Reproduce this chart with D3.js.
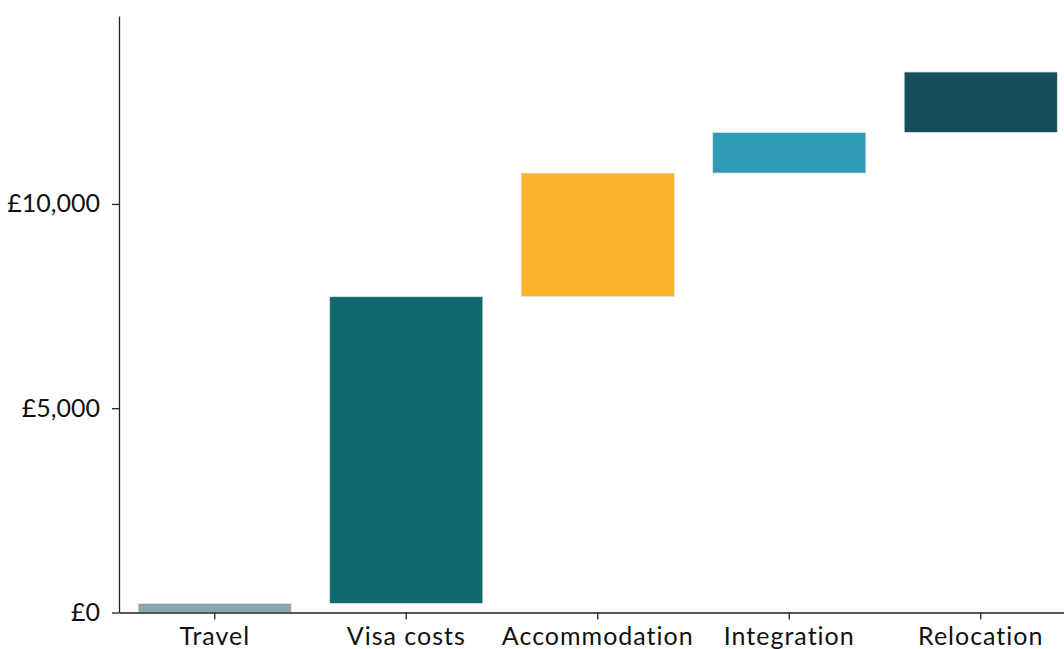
<!DOCTYPE html>
<html><head><meta charset="utf-8">
<script src="https://cdn.jsdelivr.net/npm/d3@7"></script>
<style>body{margin:0;background:#fff;} text{font-family:Lato,sans-serif;}</style>
</head><body><svg id="c" width="1064" height="649"></svg>
<script>
const categories = ["Travel","Visa costs","Accommodation","Integration","Relocation"];
const values = [220, 7510, 3025, 995, 1480];
const colors = ["#8aa6ad","#0f6a70","#fbb32e","#2e9ab6","#164f5c"];
const yTicks = [0, 5000, 10000];
const yMax = 14600;

const svg = d3.select("#c");
const m = {left:119, top:16, bottom:612.5, right:1076.5};
const x = d3.scaleBand().domain(categories).range([m.left, m.right]).paddingInner(0.2).paddingOuter(0.1);
const y = d3.scaleLinear().domain([0, yMax]).range([m.bottom, m.top]);

let cum = 0;
const data = categories.map((c,i)=>{const s=cum; cum+=values[i]; return {c, s, e:cum, col:colors[i]};});

svg.selectAll("rect.bar").data(data).join("rect")
  .attr("x", d=>x(d.c)).attr("width", x.bandwidth())
  .attr("y", d=>y(d.e)).attr("height", d=>y(d.s)-y(d.e))
  .attr("fill", d=>d.col).attr("stroke","#e3e6e6").attr("stroke-width",0.8);

const fmt = d=>"£"+d3.format(",")(d);
const ya = svg.append("g").attr("transform",`translate(${m.left},0)`)
  .call(d3.axisLeft(y).tickValues(yTicks).tickFormat(fmt).tickSize(7).tickSizeOuter(0).tickPadding(12));
const xa = svg.append("g").attr("transform",`translate(0,${m.bottom})`)
  .call(d3.axisBottom(x).tickSize(7).tickSizeOuter(0).tickPadding(8));
[ya,xa].forEach(g=>{
  g.selectAll("text").attr("fill","#111").attr("font-family","Lato,sans-serif");
  g.selectAll("line,path").attr("stroke","#222").attr("stroke-width",1.3);
});
ya.selectAll("text").attr("font-size",25);
xa.selectAll("text").attr("font-size",25).attr("letter-spacing","1px");
</script></body></html>
